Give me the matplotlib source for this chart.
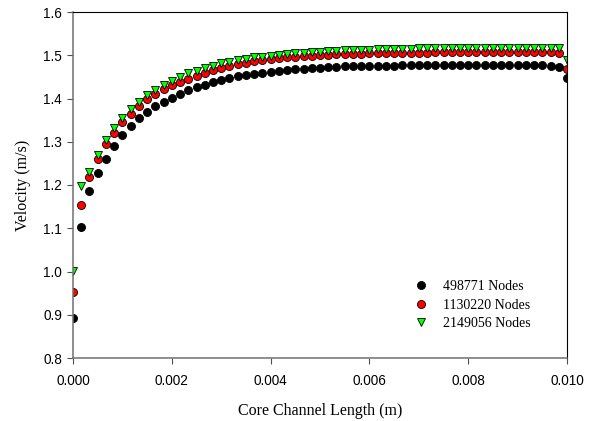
import matplotlib
matplotlib.use("Agg")
import matplotlib.pyplot as plt
import numpy as np

# channel positions (m), 61 stations along the core channel
xPos = np.linspace(0.0, 0.010, 61)

# velocity (m/s) for each mesh
vel498771 = [0.893, 1.102, 1.186, 1.227, 1.261, 1.291, 1.316, 1.337, 1.354, 1.369,
             1.382, 1.393, 1.402, 1.411, 1.419, 1.426, 1.432, 1.438, 1.443, 1.448,
             1.451, 1.454, 1.457, 1.460, 1.462, 1.464, 1.466, 1.468, 1.469, 1.470,
             1.471, 1.472, 1.473, 1.474, 1.474, 1.475, 1.475, 1.476, 1.476, 1.476,
             1.477, 1.477, 1.477, 1.477, 1.477, 1.477, 1.477, 1.477, 1.477, 1.477,
             1.477, 1.477, 1.477, 1.477, 1.477, 1.477, 1.477, 1.477, 1.476, 1.472,
             1.447]
vel1130220 = [0.952, 1.154, 1.218, 1.259, 1.294, 1.321, 1.345, 1.365, 1.383, 1.398,
              1.410, 1.421, 1.431, 1.438, 1.445, 1.451, 1.459, 1.465, 1.470, 1.475,
              1.479, 1.483, 1.486, 1.489, 1.491, 1.493, 1.495, 1.497, 1.498, 1.499,
              1.500, 1.501, 1.502, 1.503, 1.504, 1.504, 1.505, 1.505, 1.505, 1.506,
              1.506, 1.506, 1.506, 1.506, 1.507, 1.507, 1.507, 1.507, 1.507, 1.507,
              1.507, 1.507, 1.507, 1.507, 1.507, 1.507, 1.507, 1.507, 1.507, 1.505,
              1.468]
vel2149056 = [1.002, 1.198, 1.231, 1.269, 1.304, 1.331, 1.356, 1.375, 1.393, 1.408,
              1.420, 1.431, 1.441, 1.450, 1.458, 1.464, 1.471, 1.476, 1.481, 1.485,
              1.489, 1.492, 1.495, 1.497, 1.499, 1.501, 1.503, 1.505, 1.506, 1.507,
              1.508, 1.509, 1.510, 1.511, 1.512, 1.513, 1.513, 1.514, 1.514, 1.515,
              1.515, 1.515, 1.516, 1.516, 1.516, 1.516, 1.517, 1.517, 1.517, 1.517,
              1.517, 1.517, 1.517, 1.517, 1.517, 1.517, 1.517, 1.517, 1.517, 1.516,
              1.488]

labels = ["498771 Nodes", "1130220 Nodes", "2149056 Nodes"]

serif = ["Liberation Serif", "DejaVu Serif"]
sans = ["Liberation Sans", "DejaVu Sans"]

fig = plt.figure(figsize=(5.94, 4.21), dpi=100)
ax = fig.add_axes([73 / 594, 1 - 358 / 421, 494 / 594, 346 / 421])

ax.plot(xPos, vel498771, linestyle="none", marker="o", markersize=5.8,
        markerfacecolor="black", markeredgecolor="black", markeredgewidth=0.6,
        label=labels[0])
ax.plot(xPos, vel1130220, linestyle="none", marker="o", markersize=5.8,
        markerfacecolor="#ff0000", markeredgecolor="black", markeredgewidth=0.6,
        label=labels[1])
ax.plot(xPos, vel2149056, linestyle="none", marker="v", markersize=6.2,
        markerfacecolor="#00ff00", markeredgecolor="black", markeredgewidth=0.6,
        label=labels[2])

ax.set_xlim(0.0, 0.010)
ax.set_ylim(0.8, 1.6)
ax.set_xticks(np.arange(0.0, 0.0101, 0.002))
ax.set_yticks(np.arange(0.8, 1.61, 0.1))
ax.set_xticklabels(["%.3f" % v for v in np.arange(0.0, 0.0101, 0.002)])
ax.set_yticklabels(["%.1f" % v for v in np.arange(0.8, 1.61, 0.1)])

for side in ["left", "bottom"]:
    ax.spines[side].set_color("#707070")
    ax.spines[side].set_linewidth(1.1)
for side in ["top", "right"]:
    ax.spines[side].set_color("black")
    ax.spines[side].set_linewidth(0.8)

ax.tick_params(direction="out", length=4, width=0.8, color="#505050")
ax.tick_params(axis="y", pad=4)
ax.tick_params(axis="x", pad=7.5)
for lbl in ax.get_xticklabels() + ax.get_yticklabels():
    lbl.set_family(sans)
    lbl.set_fontsize(9.8)

ax.set_xlabel("Core Channel Length (m)", family=serif, fontsize=11.5, labelpad=11)
ax.set_ylabel("Velocity (m/s)", family=serif, fontsize=11.5, labelpad=9)

leg = ax.legend(loc="upper left", bbox_to_anchor=(414 / 594, 1 - 280 / 421),
                bbox_transform=fig.transFigure, frameon=False, borderpad=0,
                borderaxespad=0, handlelength=1.0, handletextpad=1.1,
                labelspacing=0.4, prop={"family": serif, "size": 10})

fig.savefig("out.png", dpi=100)
